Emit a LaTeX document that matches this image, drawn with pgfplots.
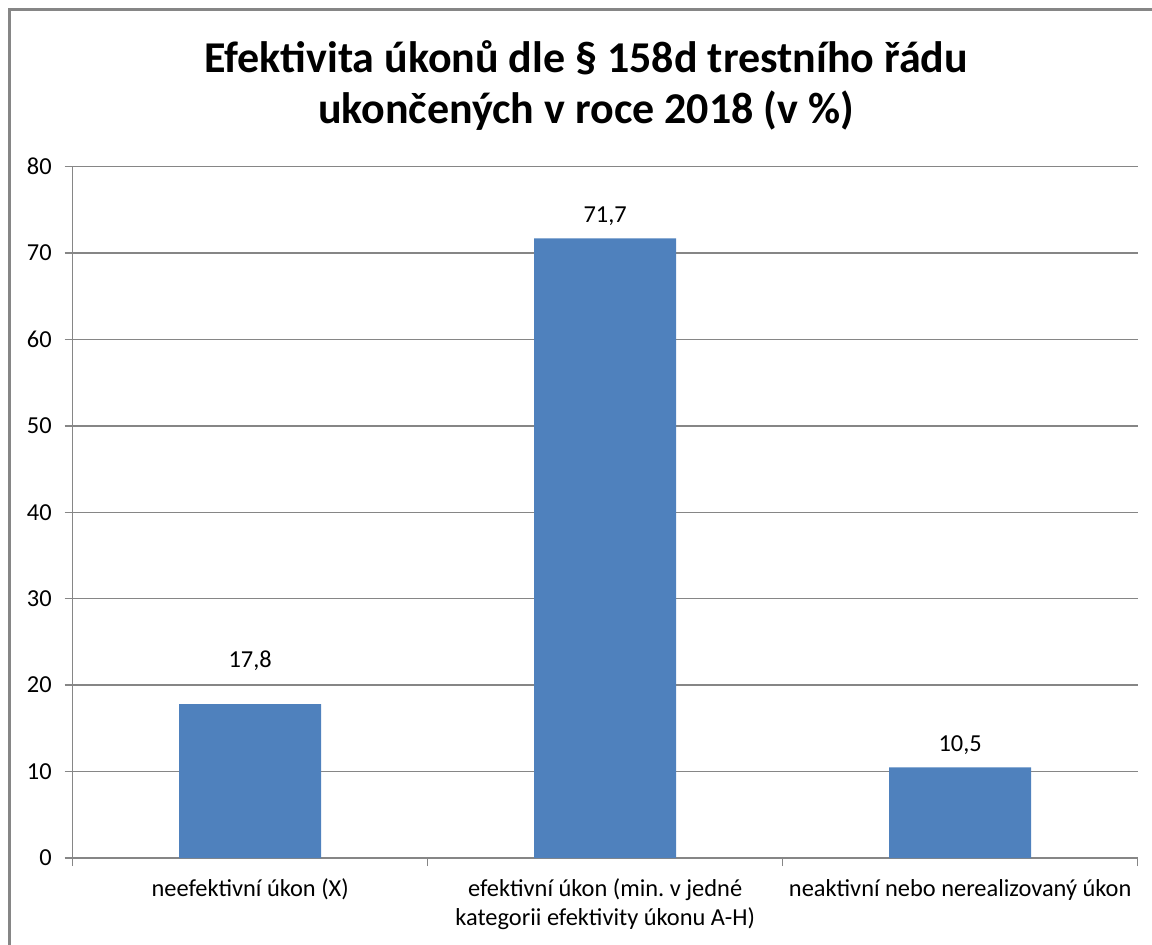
\documentclass[border=0pt]{standalone}
\usepackage{pgfplots}
\usepackage{pgfplotstable}
\pgfplotsset{compat=1.18}
\usepackage{fontspec}
\setmainfont{Carlito}
\definecolor{barblue}{RGB}{79,129,189}
\definecolor{axgray}{RGB}{134,134,134}
\pgfplotstableread{
x  y    dy
0  17.8 13
1  71.7 3
2  10.5 3
}\datatable
\begin{document}
\frenchspacing
\begin{tikzpicture}
\path[use as bounding box] (0,0) rectangle (576pt,472pt);
\draw[axgray, line width=1.5pt] (4.5pt,-30pt) rectangle (610pt,467pt);
\node[anchor=base, font=\bfseries\fontsize{22}{24}\selectfont] at (293pt,435.5pt) {Efektivita úkonů dle § 158d trestního řádu};
\node[anchor=base, font=\bfseries\fontsize{22}{24}\selectfont] at (293pt,410pt) {ukončených v roce 2018 (v \%)};
\begin{axis}[
  at={(36.35pt,43pt)}, anchor=south west,
  scale only axis, width=532.5pt, height=345.7pt,
  ymin=0, ymax=80, ytick={0,10,...,80},
  xmin=-0.5, xmax=2.5,
  axis lines*=left,
  axis line style={axgray, line width=0.75pt},
  ymajorgrids, grid style={axgray, line width=0.75pt},
  tick align=outside, major tick length=4pt,
  y tick style={axgray, line width=0.75pt},
  xtick={0,1,2},
  x tick style={draw=none},
  xticklabels={{neefektivní úkon (X)},{efektivní úkon (min.\ v jedné\\kategorii efektivity úkonu A-H)},{neaktivní nebo nerealizovaný úkon}},
  extra x ticks={-0.5,0.5,1.5,2.5},
  extra x tick labels={},
  extra x tick style={grid=none, x tick style={draw=axgray, line width=0.75pt}},
  x tick label style={font=\fontsize{12.2}{14.5}\selectfont, align=center, yshift=-3pt},
  y tick label style={font=\fontsize{12.2}{14}\selectfont, xshift=-3pt},
  /pgf/number format/assume math mode=true,
  ybar, bar width=71pt,
  nodes near coords,
  visualization depends on={\thisrow{dy} \as \dy},
  every node near coord/.append style={font=\fontsize{12.2}{14}\selectfont, yshift=\dy pt,
    /pgf/number format/.cd, use comma, fixed, precision=1, fixed zerofill, assume math mode=true},
]
\addplot[fill=barblue, draw=none] table[x=x, y=y] {\datatable};
\end{axis}
\end{tikzpicture}
\end{document}
